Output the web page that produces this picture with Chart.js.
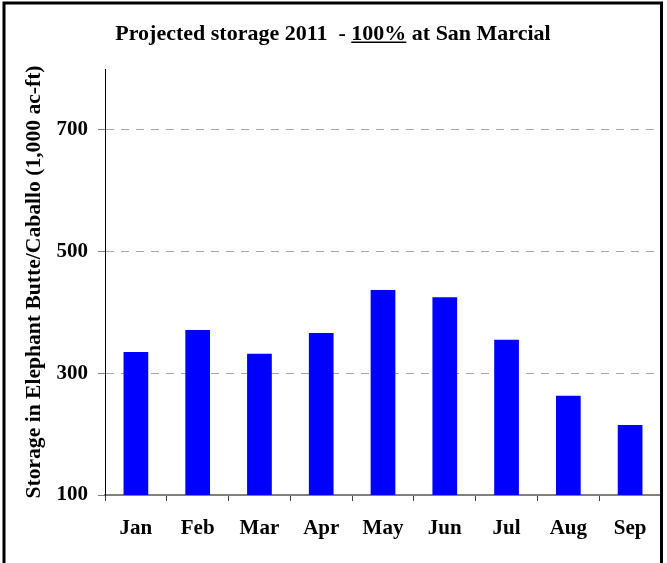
<!DOCTYPE html>
<html>
<head>
<meta charset="utf-8">
<script src="https://cdn.jsdelivr.net/npm/chart.js@4/dist/chart.umd.min.js"></script>
<style>
  html, body { margin: 0; padding: 0; background: #fff; }
  #wrap { width: 667px; height: 563px; }
</style>
</head>
<body>
<div id="wrap"><canvas id="storageChart" width="667" height="563"></canvas></div>
<script>
const months = ['Jan', 'Feb', 'Mar', 'Apr', 'May', 'Jun', 'Jul', 'Aug', 'Sep'];
const storage = [335, 371, 332, 366, 437, 425, 355, 263, 215];
const yTicks = [100, 300, 500, 700];
const titleParts = ['Projected storage 2011  - ', '100%', ' at San Marcial'];
const underlinedPart = 1;
const yTitle = 'Storage in Elephant Butte/Caballo (1,000 ac-ft)';

const serif = "'Liberation Serif', 'Times New Roman', serif";
const ctx = document.getElementById('storageChart').getContext('2d');

// title with the underlined "100%" plus the outer frame
const titleAndFrame = {
  id: 'titleAndFrame',
  afterDraw(chart) {
    const c = chart.ctx;
    c.save();
    c.font = 'bold 22px ' + serif;
    c.fillStyle = '#000';
    c.textBaseline = 'alphabetic';
    const widths = titleParts.map(t => c.measureText(t).width);
    const total = widths.reduce((a, b) => a + b, 0);
    let x = 333 - total / 2;
    titleParts.forEach((t, i) => {
      c.fillText(t, x, 40);
      if (i === underlinedPart) c.fillRect(x, 41.5, widths[i], 1.5);
      x += widths[i];
    });
    c.lineWidth = 3;
    c.strokeStyle = '#000';
    c.strokeRect(4, 3, 657.5, 600);
    c.restore();
  }
};

new Chart(ctx, {
  type: 'bar',
  data: {
    labels: months,
    datasets: [{
      data: storage,
      backgroundColor: '#0000ff',
      borderWidth: 0,
      categoryPercentage: 1.0,
      barPercentage: 0.4
    }]
  },
  options: {
    responsive: false,
    animation: false,
    layout: { padding: { top: 69, right: 6, left: 0, bottom: 0 } },
    plugins: {
      legend: { display: false },
      tooltip: { enabled: false }
    },
    scales: {
      x: {
        grid: { offset: true, drawOnChartArea: false, tickLength: 6, tickColor: '#404040', tickWidth: 1 },
        border: { color: '#808080', width: 2 },
        ticks: { color: '#000', font: { family: serif, size: 21, weight: 'bold' }, padding: 15 },
        afterFit(s) { s.height = 68; }
      },
      y: {
        min: 100,
        max: 800,
        afterBuildTicks(s) { s.ticks = yTicks.map(v => ({ value: v })); },
        grid: {
          color: c => (c.tick && c.tick.value === 100) ? 'rgba(0,0,0,0)' : '#a6a6a6',
          tickColor: '#808080',
          tickLength: 7
        },
        border: { color: '#000', width: 1, dash: [8, 7] },
        ticks: { color: '#000', font: { family: serif, size: 21, weight: 'bold' }, padding: 10 },
        title: {
          display: true,
          text: yTitle,
          color: '#000',
          font: { family: serif, size: 21.6, weight: 'bold' },
          padding: { top: 21, bottom: 0 }
        },
        afterFit(s) { s.width = 105; }
      }
    }
  },
  plugins: [titleAndFrame]
});
</script>
</body>
</html>
